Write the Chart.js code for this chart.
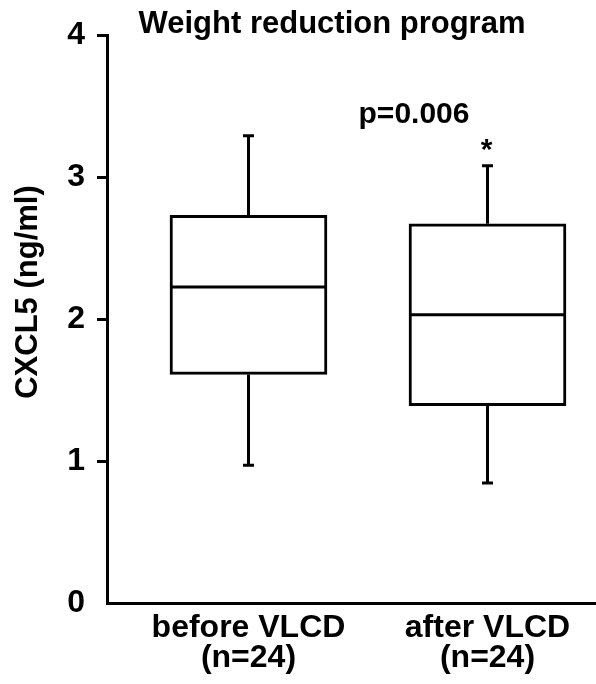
<!DOCTYPE html>
<html>
<head>
<meta charset="utf-8">
<script src="https://cdn.jsdelivr.net/npm/chart.js@4.4.0/dist/chart.umd.min.js"></script>
<style>
html, body { margin: 0; padding: 0; background: #fff; }
#wrap { width: 596px; height: 684px; }
</style>
</head>
<body>
<div id="wrap"><canvas id="boxChart" width="596" height="684"></canvas></div>
<script>
// グループ（x軸の位置とラベル）
const groupPos = [1, 2];
const groupLabels = [['before VLCD', '(n=24)'], ['after VLCD', '(n=24)']];

// 箱ひげの値（ng/ml）
const whiskerLow  = [0.97, 0.845];
const quartile1   = [1.61, 1.39];
const medians     = [2.225, 2.03];
const quartile3   = [2.73, 2.67];
const whiskerHigh = [3.29, 3.08];

// y軸
const yMin = 0;
const yMax = 4;
const yStep = 1;

// テキスト
const chartTitle = 'Weight reduction program';
const yTitle = 'CXCL5 (ng/ml)';
const pText = 'p=0.006';
const starText = '*';
const starGroup = 1; // index of the group marked with *

const FONT = '"Liberation Sans", Arial, Helvetica, sans-serif';
Chart.defaults.font.family = FONT;
Chart.defaults.color = '#000';

// ひげ・中央値・注釈を描くプラグイン
const boxExtras = {
    id: 'boxExtras',
    beforeDatasetsDraw(chart) {
        const ctx = chart.ctx;
        const y = chart.scales.y;
        const meta = chart.getDatasetMeta(0);
        ctx.save();
        ctx.strokeStyle = '#000';
        ctx.lineWidth = 3;
        meta.data.forEach((bar, i) => {
            const cx = Math.round(bar.x) + 0.5;
            const capHalf = 5.5;
            const yLo = y.getPixelForValue(whiskerLow[i]);
            const yHi = y.getPixelForValue(whiskerHigh[i]);
            ctx.beginPath();
            ctx.moveTo(cx, y.getPixelForValue(quartile3[i]));
            ctx.lineTo(cx, yHi);
            ctx.moveTo(cx - capHalf, yHi);
            ctx.lineTo(cx + capHalf, yHi);
            ctx.moveTo(cx, y.getPixelForValue(quartile1[i]));
            ctx.lineTo(cx, yLo);
            ctx.moveTo(cx - capHalf, yLo);
            ctx.lineTo(cx + capHalf, yLo);
            ctx.stroke();
        });
        ctx.restore();
    },
    afterDatasetsDraw(chart) {
        const ctx = chart.ctx;
        const y = chart.scales.y;
        const meta = chart.getDatasetMeta(0);
        ctx.save();
        ctx.strokeStyle = '#000';
        ctx.lineWidth = 3;
        meta.data.forEach((bar, i) => {
            const half = bar.width / 2;
            const ym = y.getPixelForValue(medians[i]);
            ctx.beginPath();
            ctx.moveTo(bar.x - half, ym);
            ctx.lineTo(bar.x + half, ym);
            ctx.stroke();
        });
        ctx.restore();
    },
    afterDraw(chart) {
        const ctx = chart.ctx;
        const x = chart.scales.x;
        const y = chart.scales.y;
        ctx.save();
        ctx.fillStyle = '#000';

        // タイトル
        ctx.font = 'bold 31px ' + FONT;
        ctx.textAlign = 'center';
        ctx.textBaseline = 'alphabetic';
        ctx.fillText(chartTitle, 332, 33);

        // p値と星印
        ctx.font = 'bold 30px ' + FONT;
        ctx.fillText(pText, 414, 123);
        const sx = x.getPixelForValue(groupPos[starGroup]);
        ctx.fillText(starText, sx - 1, y.getPixelForValue(whiskerHigh[starGroup]) - 7);

        // y軸タイトル
        ctx.translate(37, 292);
        ctx.rotate(-Math.PI / 2);
        ctx.font = 'bold 31px ' + FONT;
        ctx.fillText(yTitle, 0, 0);
        ctx.restore();
    }
};

const ctx = document.getElementById('boxChart').getContext('2d');
const chart = new Chart(ctx, {
    type: 'bar',
    data: {
        datasets: [{
            data: groupPos.map((p, i) => ({ x: p, y: [quartile1[i], quartile3[i]] })),
            backgroundColor: '#fff',
            borderColor: '#000',
            borderWidth: 3,
            borderSkipped: false,
            barThickness: 157
        }]
    },
    options: {
        responsive: false,
        devicePixelRatio: 1,
        animation: false,
        layout: { padding: { top: 35, right: 0, bottom: 0, left: 0 } },
        plugins: {
            legend: { display: false },
            tooltip: { enabled: false },
            title: { display: false }
        },
        scales: {
            x: {
                type: 'linear',
                offset: false,
                min: 0.408,
                max: 2.454,
                afterBuildTicks: (s) => { s.ticks = groupPos.map(v => ({ value: v })); },
                afterFit: (s) => { s.height = 81; },
                grid: { display: false, drawTicks: false, offset: false },
                border: { display: true, color: '#000', width: 3 },
                ticks: {
                    autoSkip: false,
                    maxRotation: 0,
                    padding: 10,
                    color: '#000',
                    font: { size: 32, weight: 'bold', lineHeight: '30px' },
                    callback: (v) => groupLabels[groupPos.indexOf(v)]
                }
            },
            y: {
                min: yMin,
                max: yMax,
                afterFit: (s) => { s.width = 107; },
                grid: {
                    drawOnChartArea: false,
                    drawTicks: true,
                    tickLength: 10,
                    lineWidth: 3,
                    color: (c) => (c.tick && c.tick.value === 0) ? 'rgba(0,0,0,0)' : '#000',
                    tickColor: (c) => (c.tick && c.tick.value === 0) ? 'rgba(0,0,0,0)' : '#000'
                },
                border: { display: true, color: '#000', width: 3 },
                ticks: {
                    stepSize: yStep,
                    padding: 12,
                    color: '#000',
                    font: { size: 32, weight: 'bold' }
                }
            }
        }
    },
    plugins: [boxExtras]
});
</script>
</body>
</html>
